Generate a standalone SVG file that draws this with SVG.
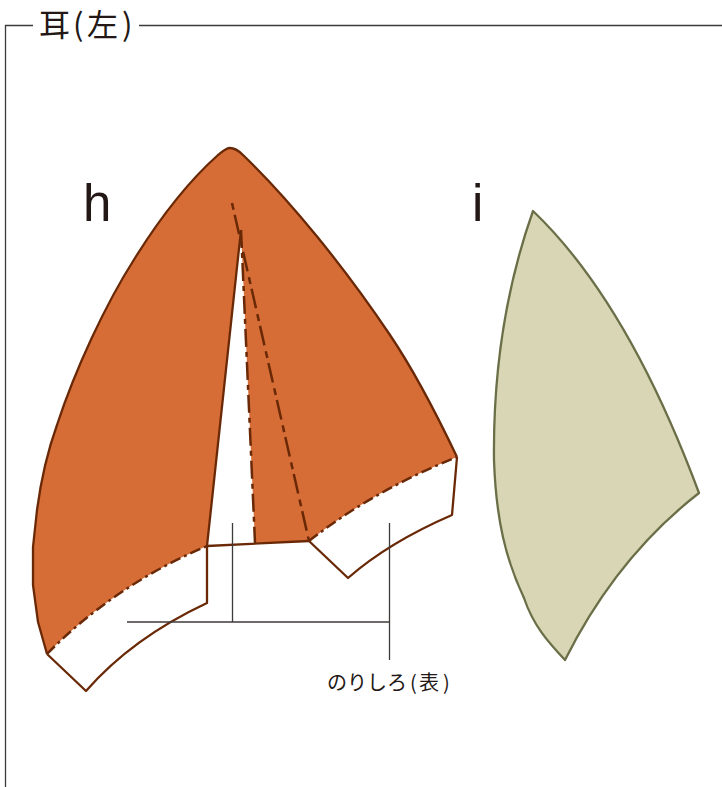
<svg xmlns="http://www.w3.org/2000/svg" width="722" height="787" viewBox="0 0 722 787">
<style>
.frame{fill:none;stroke:#3e3a39;stroke-width:1.300}
.cut{fill:none;stroke:#6a2906;stroke-width:2.300;stroke-linejoin:round}
.orange{fill:#d66c36;stroke:none}
.fold{fill:none;stroke:#6a2906;stroke-width:2.500}
.t{font-family:"Noto Sans CJK JP","Liberation Sans",sans-serif;fill:#231815}
.l{font-family:"Liberation Sans",sans-serif;fill:#231815;font-size:51px}
</style>
<rect width="722" height="787" fill="#fff"/>
<g id="frame">
<path class="frame" d="M33,25.500H5.500V787M139,25.500H722"/>
<text class="t" x="39 73 87 122" y="36" font-size="31">耳(左)</text>
</g>
<g id="h">
<path id="h-body" class="orange" d="M47,654L38,622L33,585V547L37,510C41,480 48,450 57,425C75,370 105,305 135,258C160,218 190,180 218,155C223,151 226,148 230,148C235,148 238,150 243,155C290,200 345,268 390,335C415,372 437,415 457,457C405,478 355,505 309,541L255,543L241,230L207,546C145,572 90,610 47,654Z"/>
<path class="cut" d="M47,654L38,622L33,585V547L37,510C41,480 48,450 57,425C75,370 105,305 135,258C160,218 190,180 218,155C223,151 226,148 230,148C235,148 238,150 243,155C290,200 345,268 390,335C415,372 437,415 457,457"/>
<path id="h-flap1" class="cut" d="M47,654L86,691C120,652 160,625 207,603V546"/>
<path id="h-flap2" class="cut" d="M309,541L348,578C380,550 415,531 452,515L457,457"/>
<path class="cut" d="M241,230L207,546L309,541"/>
<path class="fold" stroke-dasharray="11 4 3 4" d="M47,654C90,610 145,572 207,546"/>
<path class="fold" stroke-dasharray="11 4 3 4" d="M309,541C355,505 405,478 457,457"/>
<path class="fold" stroke-dasharray="18 5 5 5" d="M241,230L255,543"/>
<path class="fold" stroke-dasharray="7 5 20 6" d="M232,203L309,541"/>
<text class="l" x="83" y="221">h</text>
</g>
<g id="i">
<path d="M533,211C600,275 655,375 699,493C645,535 600,590 565,660C548,642 533,625 524,598C506,560 496,520 494,460C493,370 505,290 533,211Z" fill="#d9d6b5" stroke="#6b6f47" stroke-width="2.300" stroke-linejoin="round"/>
<text class="l" x="472" y="221">i</text>
</g>
<g id="leader">
<path class="frame" d="M127,622H389.500M232.500,523V622M389.500,523V660"/>
<text class="t" x="327 347 367 387 410 419 443" y="690" font-size="20">のりしろ(表)</text>
</g>
</svg>
